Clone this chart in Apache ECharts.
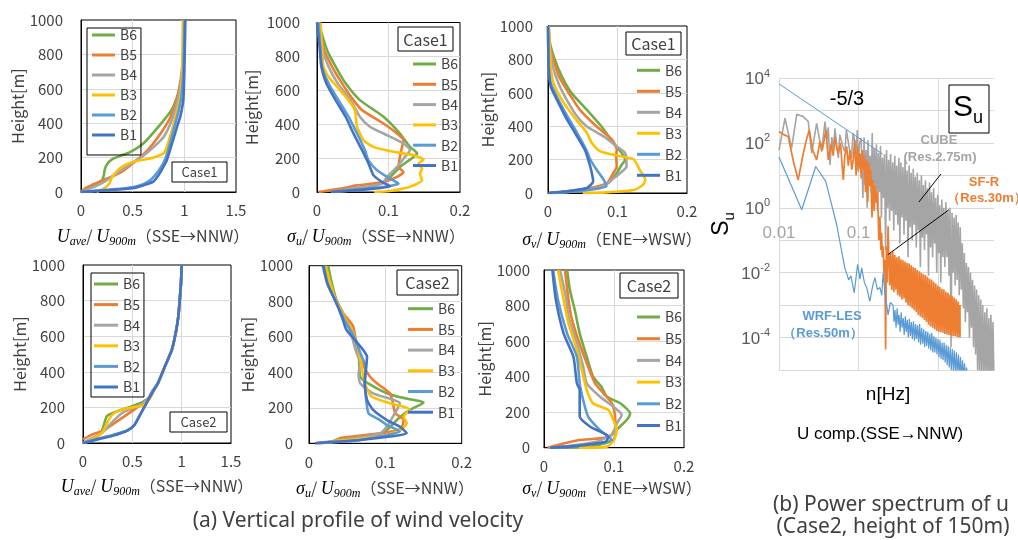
<!DOCTYPE html>
<html><head><meta charset="utf-8">
<script src="https://cdn.jsdelivr.net/npm/echarts@6/dist/echarts.min.js"></script>
<style>html,body{margin:0;padding:0;background:#fff}#c{width:1018px;height:540px}</style>
</head><body><div id="c"></div>
<script>
// ---------- DATA: vertical profiles [value, height(m)] ----------
const seriesNames = ['B6','B5','B4','B3','B2','B1'];

// (1) Uave/U900m Case1
const u1_B6 = [[0,0],[0.1,30],[0.2,65],[0.22,95],[0.23,130],[0.25,160],[0.3,190],[0.38,210],[0.47,230],[0.6,280],[0.75,380],[0.88,480],[0.96,610],[0.99,730],[1.0,850],[1.0,1000]];
const u1_B5 = [[0,0],[0.05,25],[0.12,45],[0.2,65],[0.3,90],[0.4,120],[0.5,165],[0.64,240],[0.77,340],[0.87,440],[0.94,570],[0.98,730],[1.0,1000]];
const u1_B4 = [[0,0],[0.1,25],[0.2,50],[0.3,90],[0.4,130],[0.5,170],[0.6,210],[0.7,260],[0.8,320],[0.88,420],[0.94,540],[0.98,700],[1.0,1000]];
const u1_B3 = [[0.15,0],[0.22,20],[0.27,45],[0.3,85],[0.38,140],[0.5,175],[0.67,195],[0.8,225],[0.84,280],[0.88,360],[0.92,450],[0.96,550],[0.98,700],[0.985,1000]];
const u1_B2 = [[0,0],[0.2,10],[0.4,20],[0.55,35],[0.65,60],[0.72,100],[0.78,150],[0.82,200],[0.86,280],[0.9,370],[0.94,460],[0.97,550],[0.99,700],[1.0,1000]];
const u1_B1 = [[0,0],[0.25,10],[0.5,22],[0.6,38],[0.7,60],[0.76,107],[0.8,150],[0.83,184],[0.89,300],[0.93,380],[0.96,437],[0.99,534],[1.0,700],[1.01,1000]];

// (2) sigma_u/U900m Case1
const su1_B6 = [[0.02,0],[0.06,15],[0.084,39],[0.098,69],[0.107,108],[0.116,148],[0.135,207],[0.14,227],[0.13,266],[0.116,345],[0.093,444],[0.06,542],[0.04,641],[0.026,740],[0.014,838],[0.002,1000]];
const su1_B5 = [[0.002,0],[0.033,20],[0.056,39],[0.093,59],[0.112,89],[0.121,118],[0.114,148],[0.116,207],[0.119,266],[0.121,306],[0.112,345],[0.093,404],[0.063,483],[0.051,542],[0.035,641],[0.021,740],[0.01,838],[0.002,1000]];
const su1_B4 = [[0.02,0],[0.05,20],[0.091,49],[0.098,89],[0.112,148],[0.123,207],[0.13,247],[0.121,286],[0.093,345],[0.074,385],[0.06,444],[0.047,542],[0.029,641],[0.016,740],[0.008,838],[0.002,1000]];
const su1_B3 = [[0.08,0],[0.102,6],[0.121,20],[0.135,39],[0.147,69],[0.144,108],[0.147,138],[0.142,168],[0.149,191],[0.135,217],[0.107,237],[0.079,266],[0.065,306],[0.056,385],[0.053,483],[0.044,542],[0.028,621],[0.016,680],[0.009,740],[0.007,838],[0.005,1000]];
const su1_B2 = [[0.02,0],[0.045,10],[0.093,30],[0.114,49],[0.102,79],[0.084,128],[0.072,187],[0.067,247],[0.056,345],[0.044,444],[0.03,542],[0.016,641],[0.007,740],[0.005,838],[0.002,1000]];
const su1_B1 = [[0.02,0],[0.037,6],[0.08,20],[0.102,34],[0.091,59],[0.079,99],[0.074,148],[0.07,187],[0.063,247],[0.051,345],[0.04,444],[0.026,542],[0.013,641],[0.006,740],[0.004,838],[0,1000]];

// (3) sigma_v/U900m Case1
const sv1_B6 = [[0.003,0],[0.06,20],[0.087,60],[0.099,120],[0.106,169],[0.111,199],[0.106,239],[0.094,299],[0.077,398],[0.056,498],[0.034,598],[0.02,697],[0.01,797],[0.003,896],[0.001,1000]];
const sv1_B5 = [[0.001,0],[0.027,10],[0.061,30],[0.085,60],[0.094,120],[0.099,159],[0.098,219],[0.099,259],[0.092,319],[0.07,398],[0.046,498],[0.03,598],[0.016,697],[0.008,797],[0.002,896],[0.001,1000]];
const sv1_B4 = [[0.003,0],[0.046,16],[0.08,40],[0.089,70],[0.104,120],[0.113,159],[0.111,239],[0.099,279],[0.08,339],[0.056,398],[0.042,458],[0.027,558],[0.015,657],[0.007,757],[0.002,896],[0,1000]];
const sv1_B3 = [[0.05,0],[0.084,4],[0.125,20],[0.137,50],[0.14,80],[0.132,139],[0.127,179],[0.123,203],[0.094,229],[0.075,249],[0.063,299],[0.056,359],[0.037,458],[0.02,558],[0.008,657],[0.004,757],[0.001,1000]];
const sv1_B2 = [[0.001,0],[0.022,4],[0.061,20],[0.084,40],[0.08,80],[0.07,139],[0.061,199],[0.055,259],[0.042,359],[0.028,458],[0.015,558],[0.004,657],[0.001,757],[0,1000]];
const sv1_B1 = [[0.001,0],[0.027,10],[0.056,30],[0.065,70],[0.062,139],[0.058,199],[0.053,259],[0.039,359],[0.025,458],[0.013,558],[0.004,637],[0.001,757],[0,1000]];

// (4) Uave/U900m Case2
const u2_B6 = [[0,0],[0.14,37],[0.19,65],[0.24,150],[0.3,168],[0.44,196],[0.58,224],[0.66,250],[0.72,299],[0.76,336],[0.83,430],[0.9,523],[0.94,620],[0.966,710],[0.98,800],[0.993,897],[1.0,1000]];
const u2_B5 = [[0,20],[0.1,50],[0.2,68],[0.3,105],[0.42,150],[0.55,200],[0.66,250],[0.72,299],[0.76,336],[0.83,430],[0.9,523],[0.94,620],[0.966,710],[0.98,800],[0.993,897],[1.0,1000]];
const u2_B4 = [[0,0],[0.1,30],[0.2,60],[0.3,120],[0.4,170],[0.5,195],[0.6,220],[0.68,260],[0.72,300],[0.76,336],[0.83,430],[0.9,523],[0.94,620],[0.966,710],[0.98,800],[0.993,897],[1.0,1000]];
const u2_B3 = [[0.02,0],[0.15,40],[0.2,60],[0.26,130],[0.32,170],[0.45,195],[0.6,210],[0.65,230],[0.7,270],[0.72,300],[0.76,336],[0.83,430],[0.9,523],[0.94,620],[0.966,710],[0.98,800],[0.993,897],[1.0,1000]];
const u2_B2 = [[0,0],[0.15,25],[0.3,45],[0.45,70],[0.52,100],[0.58,160],[0.64,220],[0.7,290],[0.76,340],[0.83,430],[0.9,523],[0.94,620],[0.966,710],[0.98,800],[0.993,897],[1.0,1000]];
const u2_B1 = [[0,0],[0.15,20],[0.3,40],[0.45,70],[0.52,100],[0.57,150],[0.63,210],[0.7,280],[0.76,336],[0.83,430],[0.9,523],[0.94,620],[0.966,710],[0.98,800],[0.993,897],[1.0,1000]];

// (5) sigma_u/U900m Case2
const su2_B6 = [[0.01,0],[0.032,9],[0.084,38],[0.102,75],[0.115,131],[0.132,188],[0.15,229],[0.115,263],[0.093,300],[0.067,375],[0.065,525],[0.058,619],[0.047,713],[0.036,807],[0.03,900],[0.025,1000]];
const su2_B5 = [[0.008,0],[0.03,8],[0.041,30],[0.093,56],[0.12,80],[0.124,131],[0.113,169],[0.11,225],[0.106,281],[0.089,338],[0.08,375],[0.072,431],[0.063,525],[0.058,657],[0.045,730],[0.033,820],[0.025,900],[0.02,1000]];
const su2_B4 = [[0.01,0],[0.058,28],[0.093,56],[0.102,94],[0.11,150],[0.115,188],[0.119,225],[0.084,281],[0.067,338],[0.065,394],[0.067,450],[0.061,525],[0.055,620],[0.045,713],[0.034,807],[0.027,900],[0.022,1000]];
const su2_B3 = [[0.014,0],[0.04,15],[0.093,38],[0.12,75],[0.128,113],[0.124,150],[0.132,191],[0.106,225],[0.082,263],[0.073,338],[0.069,431],[0.065,525],[0.058,620],[0.046,713],[0.035,807],[0.028,900],[0.022,1000]];
const su2_B2 = [[0.008,0],[0.06,15],[0.093,38],[0.119,66],[0.102,103],[0.093,131],[0.078,169],[0.075,244],[0.073,338],[0.074,431],[0.068,500],[0.059,600],[0.046,700],[0.034,807],[0.024,900],[0.018,1000]];
const su2_B1 = [[0.008,0],[0.019,4],[0.067,19],[0.106,38],[0.128,56],[0.119,94],[0.102,131],[0.084,188],[0.076,244],[0.073,338],[0.075,431],[0.076,488],[0.071,525],[0.06,582],[0.049,638],[0.043,713],[0.034,807],[0.024,900],[0.019,1000]];

// (6) sigma_v/U900m Case2
const sv2_B6 = [[0.013,0],[0.066,6],[0.099,43],[0.104,99],[0.118,156],[0.123,193],[0.109,250],[0.09,287],[0.082,343],[0.07,400],[0.061,512],[0.051,643],[0.044,775],[0.037,887],[0.033,1000]];
const sv2_B5 = [[0.005,0],[0.028,24],[0.051,43],[0.094,62],[0.102,118],[0.101,193],[0.097,250],[0.085,306],[0.073,362],[0.063,456],[0.049,606],[0.039,737],[0.035,831],[0.03,1000]];
const sv2_B4 = [[0.013,0],[0.075,34],[0.099,80],[0.104,137],[0.111,184],[0.099,231],[0.08,287],[0.061,362],[0.056,456],[0.047,587],[0.035,737],[0.032,831],[0.023,1000]];
const sv2_B3 = [[0.05,0],[0.09,6],[0.1,43],[0.104,99],[0.097,175],[0.092,212],[0.07,250],[0.061,325],[0.054,437],[0.047,550],[0.035,700],[0.028,831],[0.02,1000]];
const sv2_B2 = [[0.009,0],[0.052,15],[0.097,43],[0.08,99],[0.063,175],[0.056,268],[0.051,362],[0.047,512],[0.033,643],[0.02,831],[0.013,1000]];
const sv2_B1 = [[0.009,0],[0.044,9],[0.088,34],[0.092,62],[0.066,118],[0.051,175],[0.051,325],[0.047,362],[0.042,512],[0.028,643],[0.017,831],[0.012,1000]];

// ---------- DATA: power spectrum [n(Hz), Su] ----------
const cubeSpec = [[0.0100,60],[0.0119,575],[0.0144,69],[0.0167,760],[0.0202,645],[0.0233,455],[0.0257,48],[0.0297,400],[0.0343,54],[0.0378,455],[0.0400,120],[0.0415,300],[0.0437,21],[0.0460,150],[0.0480,60],[0.0504,280],[0.0530,90],[0.0556,34],[0.0580,180],[0.0612,200],[0.0640,70],[0.0673,54],[0.0700,250],[0.0741,220],[0.0770,60],[0.0815,34],[0.0850,200],[0.0898,110],[0.0930,40],[0.0960,250],[0.0988,13],[0.1020,90],[0.1069,140],
 [0.110,30],[0.113,2],[0.117,150],[0.120,5],[0.124,60],[0.128,1],[0.131,120],[0.135,8],[0.139,40],[0.144,3],[0.148,200],[0.152,1.5],[0.157,70],[0.162,4],[0.167,90],[0.172,0.8],[0.177,50],[0.182,3],[0.188,80],[0.193,0.5],[0.199,35],[0.205,2],[0.211,45],[0.218,0.05],[0.224,60],[0.231,1],[0.238,30],[0.245,0.4],[0.252,45],[0.260,0.8],[0.268,25],[0.276,0.2],[0.284,40],[0.293,0.6],[0.301,20],[0.310,0.3],[0.320,35],[0.329,0.08],[0.339,25],[0.349,0.5],[0.360,18],[0.371,0.15],[0.382,30],[0.393,0.4],[0.405,14],[0.417,0.03],[0.430,20],[0.443,0.25],[0.456,12],[0.470,0.1],[0.484,16],[0.498,0.3],[0.513,9],[0.529,0.06],[0.544,12],[0.561,0.2],[0.578,7],[0.595,0.015],[0.613,10],[0.631,0.12],[0.650,5],[0.670,0.05],[0.690,7],[0.710,0.15],[0.732,4],[0.753,0.008],[0.776,6],[0.799,0.06],[0.823,3],[0.848,0.03],[0.874,4],[0.900,0.08],[0.927,2],[0.955,0.01],[0.983,2.5],[1.013,0.04],[1.043,1.2],[1.074,0.005],[1.107,1.8],[1.140,0.03],[1.174,1],[1.209,0.015],[1.246,1.5],[1.283,0.03],[1.322,0.8],[1.361,0.008],[1.402,1],[1.444,5e-5],[1.487,0.7],[1.532,0.01],[1.578,0.5],[1.625,0.004],[1.674,0.6],[1.724,0.006],[1.776,0.35],[1.829,0.002],[1.884,0.25],[1.941,0.003],[1.999,0.08],[2.059,8e-4],[2.121,0.04],[2.184,3e-4],[2.250,0.02],[2.317,6e-4],[2.387,0.015],[2.458,1e-4],[2.532,0.01],[2.608,2e-4],[2.686,0.006],[2.767,5e-5],[2.850,0.004],[2.935,3e-5],[3.023,0.003],[3.114,1e-5],[3.207,0.002],[3.304,5e-6],[3.403,0.0015],[3.505,8e-6],[3.610,0.001],[3.718,5e-6],[3.830,6e-4],[3.945,5e-6],[4.063,8e-4],[4.185,5e-6],[4.311,4e-4],[4.440,5e-6],[4.573,5e-4],[4.710,5e-6],[4.852,3e-4],[4.997,5e-6]];
const sfrSpec = [[0.0100,224],[0.0115,180],[0.0131,155],[0.0150,30],[0.0174,7.2],[0.0202,48],[0.0220,120],[0.0240,250],[0.0265,60],[0.0297,30],[0.0327,110],[0.0350,60],[0.0388,250],[0.0416,30],[0.0450,90],[0.0480,40],[0.0503,155],[0.0530,70],[0.0555,48],[0.0590,100],[0.0641,7.2],[0.0670,40],[0.0707,78],[0.0740,20],[0.0780,60],[0.0820,15],[0.0855,30],[0.0890,120],[0.0930,10],[0.0970,80],[0.1000,15],[0.1040,48],[0.1080,8],[0.1110,60],[0.1140,15],[0.1180,40],[0.1220,3],[0.1260,30],[0.1300,1.5],[0.1340,25],[0.1380,4.6],[0.1420,15],[0.1470,0.5],[0.1520,7.2],[0.1570,0.8],[0.1620,5],[0.1680,1.4],[0.1730,3],[0.1790,0.1],[0.1850,0.54],[0.1900,0.05],[0.1940,0.17],[0.1980,0.03],[0.2030,0.065],[0.2080,0.01],[0.2130,0.025],[0.2180,4.3e-5],[0.2230,0.065],[0.2280,0.005],[0.2340,0.27],
 [0.238,0.05],[0.245,4e-3],[0.252,0.04],[0.260,3e-3],[0.268,0.045],[0.276,2.5e-3],[0.284,0.035],[0.293,3e-3],[0.301,0.03],[0.310,2e-3],[0.320,0.032],[0.329,1.8e-3],[0.339,0.026],[0.349,1.5e-3],[0.360,0.024],[0.371,1.6e-3],[0.382,0.022],[0.393,1.2e-3],[0.405,0.02],[0.417,1e-3],[0.430,0.019],[0.443,9e-4],[0.456,0.017],[0.470,8e-4],[0.484,0.015],[0.498,7e-4],[0.513,0.014],[0.529,6e-4],[0.544,0.012],[0.561,5e-4],[0.578,0.011],[0.595,4.5e-4],[0.613,0.01],[0.631,4e-4],[0.650,0.009],[0.670,3.5e-4],[0.690,0.0085],[0.710,3e-4],[0.732,0.0075],[0.753,2.5e-4],[0.776,0.0065],[0.799,2.2e-4],[0.823,0.006],[0.848,2e-4],[0.874,0.0052],[0.900,1.8e-4],[0.927,0.0046],[0.955,1.6e-4],[0.983,0.004],[1.013,1.5e-4],[1.043,0.0036],[1.074,1.45e-4],[1.107,0.0032],[1.140,1.4e-4],[1.174,0.003],[1.209,1.3e-4],[1.246,0.0026],[1.283,1.25e-4],[1.322,0.0024],[1.361,1.2e-4],[1.402,0.0021],[1.444,1.15e-4],[1.487,0.0019],[1.532,1.1e-4],[1.578,0.0017],[1.625,1.1e-4],[1.674,0.0015],[1.724,1.05e-4],[1.776,0.0013],[1.829,1e-4],[1.870,0.001],[1.875,1e-4]];
const wrfSpec = [[0.0100,37],[0.0193,0.87],[0.0289,18.7],[0.0386,6.5],[0.053,0.3],[0.067,0.014],[0.075,0.006],[0.080,0.008],[0.088,0.0024],[0.097,0.018],[0.104,0.0063],[0.109,0.014],[0.118,0.005],[0.126,0.0035],[0.138,0.0013],[0.150,0.004],[0.160,0.007],[0.172,0.003],[0.185,0.0035],[0.195,0.002],[0.203,0.01],[0.213,0.0026],[0.234,5e-4],[0.250,1.2e-3],
 [0.270,1e-3],[0.278,3e-4],[0.286,7e-4],[0.295,2e-4],[0.304,8e-4],[0.313,2.5e-4],[0.322,5e-4],[0.332,1.5e-4],[0.342,6e-4],[0.352,2e-4],[0.363,4e-4],[0.373,1.2e-4],[0.385,4.5e-4],[0.396,1.5e-4],[0.408,3.5e-4],[0.420,1e-4],[0.433,3.8e-4],[0.446,1.1e-4],[0.459,3e-4],[0.473,9e-5],[0.487,3.2e-4],[0.502,8e-5],[0.517,2.6e-4],[0.532,9e-5],[0.548,2.4e-4],[0.565,7e-5],[0.582,2.6e-4],[0.599,6e-5],[0.617,2e-4],[0.636,6.5e-5],[0.655,1.8e-4],[0.674,5e-5],[0.695,1.6e-4],[0.715,5.5e-5],[0.737,1.5e-4],[0.759,4.5e-5],[0.782,1.3e-4],[0.805,4e-5],[0.829,1.4e-4],[0.854,3.5e-5],[0.880,1.1e-4],[0.906,3.5e-5],[0.933,1e-4],[0.961,3e-5],[0.990,9e-5],[1.020,2.5e-5],[1.051,8.5e-5],[1.082,2.2e-5],[1.115,7e-5],[1.148,2e-5],[1.182,7e-5],[1.218,1.7e-5],[1.254,6e-5],[1.292,1.4e-5],[1.331,5.5e-5],[1.371,1.2e-5],[1.412,5e-5],[1.454,1e-5],[1.498,4.5e-5],[1.543,9e-6],[1.589,4e-5],[1.637,8e-6],[1.686,3.5e-5],[1.736,7e-6],[1.788,3e-5],[1.842,7e-6],[1.897,2.5e-5],[1.954,6e-6],[2.013,2e-5],[2.073,6e-6],[2.135,1.6e-5],[2.199,5e-6],[2.265,1.2e-5],[2.333,5e-6]];
const slopeLine = [[0.01,6600],[0.2,45]];
const cubeLeader = [[1.08,11],[0.57,1.5]];
const sfrLeader = [[1.36,0.87],[0.233,0.036]];
const specXTicks = {'-2':'0.01','-1':'0.1','0':'1'};

// ---------- LAYOUT / STYLE ----------
const FONT = "'Noto Sans CJK JP','Noto Sans',sans-serif";
const CFONT = "'Noto Sans','Noto Sans CJK JP',sans-serif";
const SFONT = "'Liberation Sans',Arial,sans-serif";
const MFONT = "'Liberation Serif','DejaVu Serif',serif";
const TXT = '#404040';
const GRIDC = '#D9D9D9';
const colors = {B6:'#70AD47',B5:'#ED7D31',B4:'#A5A5A5',B3:'#FFC000',B2:'#5B9BD5',B1:'#4472C4'};

const panels = [
 {data:[u1_B6,u1_B5,u1_B4,u1_B3,u1_B2,u1_B1], grid:{left:81,top:20,width:155,height:172}, xmax:1.5, xint:0.5, nameGap:52, lm:18},
 {data:[su1_B6,su1_B5,su1_B4,su1_B3,su1_B2,su1_B1], grid:{left:317,top:22.5,width:143,height:169.5}, xmax:0.2, xint:0.1, nameGap:57, lm:17},
 {data:[sv1_B6,sv1_B5,sv1_B4,sv1_B3,sv1_B2,sv1_B1], grid:{left:548,top:26,width:139,height:167}, xmax:0.2, xint:0.1, nameGap:52, lm:15},
 {data:[u2_B6,u2_B5,u2_B4,u2_B3,u2_B2,u2_B1], grid:{left:83,top:265,width:148,height:178}, xmax:1.5, xint:0.5, nameGap:53, lm:18},
 {data:[su2_B6,su2_B5,su2_B4,su2_B3,su2_B2,su2_B1], grid:{left:309,top:265.7,width:152.7,height:177.6}, xmax:0.2, xint:0.1, nameGap:52, lm:16},
 {data:[sv2_B6,sv2_B5,sv2_B4,sv2_B3,sv2_B2,sv2_B1], grid:{left:544,top:270,width:140,height:177.7}, xmax:0.2, xint:0.1, nameGap:50, lm:14}
];

const grid = [], xAxis = [], yAxis = [], series = [];
panels.forEach((p, i) => {
  grid.push(Object.assign({show:true, borderColor:'#000', borderWidth:1, backgroundColor:'transparent', containLabel:false, outerBoundsMode:'none'}, p.grid));
  xAxis.push({type:'value', gridIndex:i, min:0, max:p.xmax, interval:p.xint,
    axisLine:{show:true, onZero:false, lineStyle:{color:'#000', width:1}}, axisTick:{show:false},
    axisLabel:{color:TXT, fontSize:15, fontFamily:FONT, margin:11, formatter:function(v){ return String(v); }},
    splitLine:{show:true, showMinLine:false, showMaxLine:false, lineStyle:{color:GRIDC, width:1}}});
  yAxis.push({type:'value', gridIndex:i, min:0, max:1000, interval:200,
    name:'Height[m]', nameLocation:'middle', nameGap:p.nameGap, nameRotate:90,
    nameTextStyle:{color:TXT, fontSize:16, fontFamily:FONT},
    axisLine:{show:true, onZero:false, lineStyle:{color:'#000', width:1}}, axisTick:{show:false},
    axisLabel:{color:TXT, fontSize:15, fontFamily:FONT, margin:p.lm, formatter:function(v){ return String(v); }},
    splitLine:{show:true, showMinLine:false, showMaxLine:false, lineStyle:{color:GRIDC, width:1}}});
  seriesNames.forEach((n, k) => {
    series.push({type:'line', name:n, xAxisIndex:i, yAxisIndex:i, data:p.data[k], symbol:'none', showSymbol:false,
      smooth:0.2, lineStyle:{width:2.6, color:colors[n]}, itemStyle:{color:colors[n]}, z:3, silent:true});
  });
});

// spectrum grid (index 6) and tick-label strip at the 10^0 line (index 7)
grid.push({show:false, left:779, top:78, width:215, height:292, containLabel:false, outerBoundsMode:'none'});
grid.push({show:false, left:779, top:207, width:215, height:1, containLabel:false, outerBoundsMode:'none'});
xAxis.push({type:'log', logBase:10, gridIndex:6, min:0.01, max:5,
  axisLine:{show:false}, axisTick:{show:false}, axisLabel:{show:false},
  splitLine:{show:true, showMaxLine:false, lineStyle:{color:GRIDC, width:1}}});
yAxis.push({type:'log', logBase:10, gridIndex:6, min:1e-5, max:1e4, interval:1,
  axisLine:{show:false}, axisTick:{show:false},
  splitLine:{show:true, lineStyle:{color:GRIDC, width:1}},
  name:'{S|S}{u|u}', nameLocation:'middle', nameGap:34, nameRotate:90,
  nameTextStyle:{color:'#000', fontFamily:SFONT, rich:{
    S:{fontSize:23, lineHeight:27, verticalAlign:'top', fontFamily:SFONT, color:'#000'},
    u:{fontSize:15, lineHeight:15, verticalAlign:'bottom', fontFamily:SFONT, color:'#000'}}},
  axisLabel:{margin:9, color:'#595959', fontFamily:SFONT,
    formatter:function(v){ const l = Math.log10(v), e = Math.round(l);
      if (Math.abs(l - e) > 1e-6 || e % 2 !== 0) return ''; return '{b|10}{s|' + e + '}'; },
    rich:{ b:{fontSize:17, lineHeight:20, verticalAlign:'bottom', fontFamily:SFONT, color:'#595959', padding:[6,0,0,0]},
           s:{fontSize:11, lineHeight:11, verticalAlign:'top', fontFamily:SFONT, color:'#595959'} }}});
xAxis.push({type:'log', logBase:10, gridIndex:7, min:0.01, max:5,
  axisLine:{show:false}, axisTick:{show:false}, splitLine:{show:false},
  axisLabel:{color:'#A6A6A6', fontSize:17, fontFamily:SFONT, margin:17,
    formatter:function(v){ const l = Math.log10(v), e = Math.round(l);
      if (Math.abs(l - e) > 1e-6) return ''; return specXTicks[String(e)] || ''; }}});
yAxis.push({type:'value', gridIndex:7, show:false, min:0, max:1});

function specLine(name, data, color, w, z) {
  return {type:'line', name:name, xAxisIndex:6, yAxisIndex:6, data:data, symbol:'none', showSymbol:false,
    lineStyle:{width:w, color:color}, itemStyle:{color:color}, z:z, silent:true, clip:true};
}
series.push(specLine('CUBE', cubeSpec, '#A5A5A5', 1.6, 3));
series.push(specLine('SF-R', sfrSpec, '#ED7D31', 1.7, 4));
series.push(specLine('WRF-LES', wrfSpec, '#5B9BD5', 1.2, 5));
series.push(specLine('slope', slopeLine, '#5B9BD5', 1, 6));
series.push(specLine('cubeLeader', cubeLeader, '#000', 1, 7));
series.push(specLine('sfrLeader', sfrLeader, '#000', 1, 7));

// legends
function leg(left, top, gap, w, pad, border) {
  return {data:seriesNames, orient:'vertical', left:left, top:top, itemGap:gap, itemWidth:w, itemHeight:3, icon:'rect',
    selectedMode:false, padding:pad, borderColor:border ? '#000' : 'transparent', borderWidth:border ? 1 : 0,
    textStyle:{fontSize:14, color:TXT, fontFamily:FONT, lineHeight:10}};
}
const legend = [
  leg(87, 28, 6, 23, [0,4,13,5], true),
  leg(413, 57, 6.3, 23, 0, false),
  leg(637, 63.3, 7, 23, 0, false),
  leg(91, 273, 6.6, 24, [4,4,3,3], true),
  leg(408, 301.7, 6.7, 25, 0, false),
  leg(637, 310, 7.7, 23, 0, false)
];

// graphic text helpers
function T(x, y, text, st) {
  return {type:'text', z:100, silent:true, style:Object.assign({x:x, y:y, text:text, align:'center', verticalAlign:'middle',
    textAlign:'center', textVerticalAlign:'middle', fill:TXT, fontSize:16, fontFamily:FONT}, st || {})};
}
function box(x, y, w, h, label, fs) {
  return [{type:'rect', z:90, silent:true, shape:{x:x, y:y, width:w, height:h}, style:{fill:'#fff', stroke:'#000', lineWidth:1}},
          T(x + w/2, y + h/2 + 0.5, label, {fontSize:fs, fill:TXT})];
}
const mathRich = {
  m:{fontFamily:MFONT, fontStyle:'italic', fontSize:18, lineHeight:20, verticalAlign:'top', fill:'#000'},
  s:{fontFamily:MFONT, fontStyle:'italic', fontSize:12, lineHeight:12, verticalAlign:'bottom', fill:'#000'},
  t:{fontFamily:FONT, fontSize:16, lineHeight:20, verticalAlign:'top', fill:TXT}
};
function mathTitle(x, y, text) { return T(x, y, text, {rich:mathRich}); }

const graphicEls = [].concat(
  box(172, 162, 55, 20, 'Case1', 13),
  box(398, 27, 55, 24, 'Case1', 16),
  box(626, 32, 55, 23, 'Case1', 16),
  box(170, 412, 57, 20, 'Case2', 13),
  box(397, 270, 61, 25, 'Case2', 16),
  box(620, 273, 58, 25, 'Case2', 16),
  [
    mathTitle(153, 238, '{m|U}{s|ave}{t|/ }{m|U}{s|900m}{t|（SSE→NNW）}'),
    mathTitle(376, 238, '{m|σ}{s|u}{t|/ }{m|U}{s|900m}{t|（SSE→NNW）}'),
    mathTitle(612, 241, '{m|σ}{s|v}{t|/ }{m|U}{s|900m}{t|（ENE→WSW）}'),
    mathTitle(157, 488, '{m|U}{s|ave}{t|/ }{m|U}{s|900m}{t|（SSE→NNW）}'),
    mathTitle(385, 490, '{m|σ}{s|u}{t|/ }{m|U}{s|900m}{t|（SSE→NNW）}'),
    mathTitle(612, 490, '{m|σ}{s|v}{t|/ }{m|U}{s|900m}{t|（ENE→WSW）}'),
    T(358, 521, '(a) Vertical profile of wind velocity', {fontSize:21, fontFamily:CFONT, fill:TXT}),
    T(891, 505, '(b) Power spectrum of u', {fontSize:21, fontFamily:CFONT, fill:TXT}),
    T(893, 527, '(Case2, height of 150m)', {fontSize:21, fontFamily:CFONT, fill:TXT}),
    T(880, 434, 'U comp.(SSE→NNW)', {fontSize:17, fontFamily:SFONT, fill:'#000'}),
    T(888, 395, 'n[Hz]', {fontSize:19, fontFamily:SFONT, fill:'#000'}),
    T(847, 99, '-5/3', {fontSize:20, fontFamily:SFONT, fill:'#000'}),
    T(939, 140, 'CUBE', {fontSize:13, fontWeight:'bold', fontFamily:SFONT, fill:'#A5A5A5'}),
    T(940, 157, '(Res.2.75m)', {fontSize:13, fontWeight:'bold', fontFamily:SFONT, fill:'#A5A5A5'}),
    T(984, 182, 'SF-R', {fontSize:13, fontWeight:'bold', fontFamily:SFONT, fill:'#ED7D31'}),
    T(987, 198, '（Res.30m）', {fontSize:13, fontWeight:'bold', fontFamily:SFONT, fill:'#ED7D31'}),
    T(832, 316, 'WRF-LES', {fontSize:13, fontWeight:'bold', fontFamily:SFONT, fill:'#5B9BD5'}),
    T(823, 333, '（Res.50m）', {fontSize:13, fontWeight:'bold', fontFamily:SFONT, fill:'#5B9BD5'}),
    {type:'rect', z:90, silent:true, shape:{x:949, y:85, width:40, height:48}, style:{fill:'#fff', stroke:'#000', lineWidth:1}},
    T(968, 110, '{S|S}{u|u}', {rich:{
      S:{fontSize:30, lineHeight:34, verticalAlign:'top', fontFamily:SFONT, fill:'#000'},
      u:{fontSize:18, lineHeight:18, verticalAlign:'bottom', fontFamily:SFONT, fill:'#000'}}})
  ]
);

const chart = echarts.init(document.getElementById('c'), null, {renderer:'canvas'});
chart.setOption({
  animation:false,
  backgroundColor:'#fff',
  grid:grid, xAxis:xAxis, yAxis:yAxis, legend:legend, series:series,
  graphic:{elements:graphicEls}
});
</script></body></html>
